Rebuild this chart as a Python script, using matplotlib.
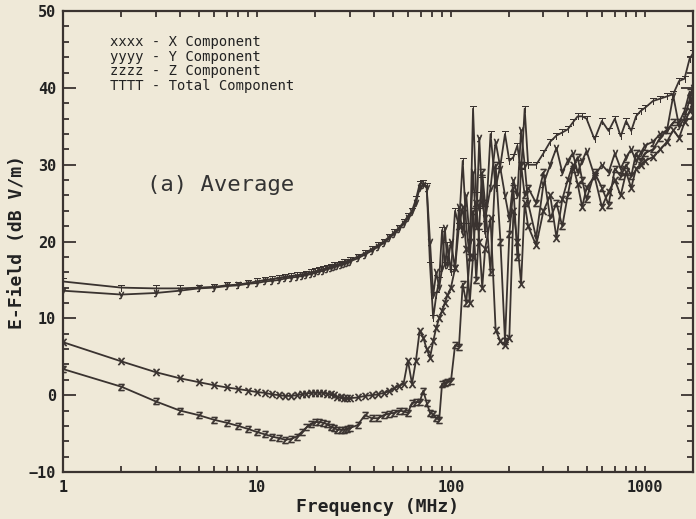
import matplotlib
matplotlib.use("Agg")
import matplotlib.pyplot as plt
from matplotlib.ticker import FixedLocator, MultipleLocator, NullFormatter

# frequency grid (MHz)
freq = [1, 2, 3, 4, 5, 6, 7, 8, 9, 10, 11, 12, 13, 14, 15, 16, 17, 18, 19, 20,
        21, 22, 23, 24, 25, 26, 27, 28, 29, 30,
        33, 36, 39, 42, 45, 48, 51, 54, 57, 60, 63, 66, 69, 72, 75, 78, 81, 84,
        87, 90, 93, 96, 100,
        105, 110, 115, 120, 125, 130, 135, 140, 145, 150, 160, 170, 180, 190,
        200, 210, 220, 230, 240, 250,
        275, 300, 325, 350, 375, 400, 425, 450, 475, 500, 550, 600, 650, 700,
        750, 800, 850, 900, 950, 1000, 1100, 1200, 1300, 1400, 1500, 1600,
        1700, 1770]

# E-field, dB V/m
e_total = [14.8, 14.0, 13.9, 13.9, 14.0, 14.1, 14.3, 14.4, 14.6, 14.8, 15.0, 15.1,
           15.3, 15.4, 15.5, 15.6, 15.7, 15.8, 16.0, 16.1, 16.3, 16.4, 16.6, 16.7,
           16.9, 17.0, 17.1, 17.3, 17.4, 17.6,
           18.0, 18.5, 19.0, 19.5, 20.0, 20.6, 21.2, 21.8, 22.5, 23.3, 24.0, 25.5,
           27.5, 27.6, 27.2, 17.0, 10.0, 13.0, 15.0, 21.5, 17.0, 19.5, 16.0,
           24.0, 22.0, 30.5, 22.0, 18.0, 37.3, 26.0, 24.0, 28.0, 21.0, 34.0, 27.0,
           30.0, 34.0, 30.5, 31.0, 32.5, 29.0, 37.3, 30.0,
           30.0, 31.5, 33.0, 33.8, 34.2, 34.6, 35.5, 36.3, 36.3, 36.0, 33.3, 35.7,
           34.4, 36.0, 33.7, 35.7, 34.4, 36.3, 37.0, 37.4, 38.3, 38.6, 38.9, 39.2,
           40.9, 41.2, 43.8, 44.5]
e_y = [13.6, 13.1, 13.3, 13.6, 13.9, 14.0, 14.2, 14.3, 14.5, 14.6, 14.8, 14.9,
       15.0, 15.2, 15.3, 15.4, 15.5, 15.6, 15.8, 15.9, 16.1, 16.2, 16.4, 16.5,
       16.7, 16.8, 16.9, 17.1, 17.2, 17.4,
       17.8, 18.3, 18.8, 19.3, 19.8, 20.4, 21.0, 21.6, 22.3, 23.0, 23.8, 25.0,
       27.0, 27.4, 27.0, 20.0, 13.0, 16.0, 14.0, 16.5, 21.8, 17.0, 20.0,
       16.5, 24.5, 21.0, 26.0, 20.0, 29.0, 22.0, 33.5, 25.0, 23.0, 27.0, 33.0,
       29.5, 26.0, 23.0, 28.0, 26.0, 34.5, 30.0, 25.0,
       20.5, 27.5, 30.0, 32.2, 29.0, 30.5, 31.5, 29.0, 30.5, 31.8, 28.5, 30.0,
       29.0, 31.5, 29.5, 31.0, 32.0, 30.5, 31.5, 32.5, 33.0, 34.0, 34.5, 39.0,
       35.0, 36.0, 38.5, 40.0]
e_x = [6.9, 4.4, 3.0, 2.2, 1.7, 1.3, 1.0, 0.8, 0.6, 0.4, 0.3, 0.1,
       0.0, -0.1, -0.1, 0.0, 0.1, 0.2, 0.3, 0.3, 0.3, 0.3, 0.2, 0.1,
       0.0, -0.2, -0.3, -0.4, -0.4, -0.4,
       -0.3, -0.1, 0.0, 0.1, 0.3, 0.5, 0.9, 1.2, 1.5, 4.5, 1.5, 4.5,
       8.4, 7.5, 6.0, 4.9, 7.0, 8.8, 10.0, 11.0, 12.0, 13.0, 14.0,
       16.5, 22.0, 24.5, 19.0, 12.0, 18.0, 25.0, 20.0, 14.0, 19.0, 23.0, 8.5,
       7.0, 6.5, 7.5, 24.0, 20.0, 14.5, 25.0, 22.0,
       19.5, 24.0, 26.0, 20.5, 25.5, 28.0, 30.0, 27.5, 24.5, 27.0, 28.5, 24.5,
       26.5, 28.0, 26.0, 29.0, 27.0, 29.5, 30.0, 30.5, 31.0, 32.0, 33.0, 34.5,
       33.5, 35.5, 37.0, 38.0]
e_z = [3.4, 1.1, -0.8, -2.0, -2.6, -3.2, -3.6, -4.0, -4.4, -4.8, -5.1, -5.4,
       -5.6, -5.8, -5.7, -5.4, -4.8, -4.2, -3.7, -3.5, -3.5, -3.6, -3.8, -4.1,
       -4.3, -4.5, -4.5, -4.5, -4.4, -4.3,
       -3.9, -2.6, -3.0, -3.0, -2.6, -2.4, -2.3, -2.0, -2.1, -2.3, -1.0, -0.9,
       -0.9, 0.6, -1.0, -2.3, -2.5, -3.0, -3.2, 1.5, 1.6, 1.7, 1.8,
       6.5, 6.3, 14.5, 12.0, 18.0, 24.0, 15.0, 22.0, 29.0, 25.0, 16.0, 30.0,
       20.0, 7.0, 21.0, 27.0, 18.0, 30.0, 26.0, 27.0,
       25.0, 29.0, 23.0, 25.0, 22.0, 26.0, 29.5, 31.0, 28.0, 25.5, 29.0, 27.0,
       24.8, 29.5, 28.5, 30.0, 28.5, 31.5, 30.5, 31.5, 32.0, 33.5, 34.5, 35.5,
       35.5, 37.0, 39.5, 36.5]

legend_lines = ["xxxx - X Component", "yyyy - Y Component",
                "zzzz - Z Component", "TTTT - Total Component"]
xtick_vals = [1, 10, 100, 1000]
xtick_labels = ["1", "10", "100", "1000"]
ytick_vals = [-10, 0, 10, 20, 30, 40, 50]

paper = "#efe9d8"
ink = "#3a3330"
mono = "DejaVu Sans Mono"

fig = plt.figure(figsize=(6.96, 5.19), dpi=100, facecolor=paper)
ax = fig.add_axes([0.0905, 0.0906, 0.9052, 0.888])
ax.set_facecolor(paper)

for vals, m in [(e_z, "$\\mathrm{z}$"), (e_x, "$\\mathrm{x}$"),
                (e_y, "$\\mathrm{y}$"), (e_total, "$\\mathrm{T}$")]:
    ax.plot(freq, vals, color=ink, lw=1.3, marker=m, markersize=5,
            markeredgewidth=0.5)

ax.set_xscale("log")
ax.set_xlim(1, 1770)
ax.set_ylim(-10, 50)

ax.xaxis.set_major_locator(FixedLocator(xtick_vals))
ax.set_xticklabels(xtick_labels)
ax.xaxis.set_minor_formatter(NullFormatter())
ax.yaxis.set_major_locator(FixedLocator(ytick_vals))
ax.yaxis.set_minor_locator(MultipleLocator(2))

ax.tick_params(which="both", direction="in", top=True, right=True,
               color=ink, width=1.3, labelcolor="#222")
ax.tick_params(axis="y", which="major", length=9, pad=5)
ax.tick_params(axis="y", which="minor", length=4.5)
ax.tick_params(axis="x", which="both", length=4.5, pad=6)
for lab in ax.get_xticklabels() + ax.get_yticklabels():
    lab.set_fontfamily(mono)
    lab.set_fontweight("bold")
    lab.set_fontsize(11)

for s in ax.spines.values():
    s.set_color(ink)
    s.set_linewidth(1.6)

ax.set_xlabel("Frequency (MHz)", fontfamily=mono, fontweight="bold",
              fontsize=13, color="#222", labelpad=2)
ax.set_ylabel("E-Field (dB V/m)", fontfamily=mono, fontweight="bold",
              fontsize=13, color="#222", labelpad=2)

for i, line in enumerate(legend_lines):
    ax.text(0.075, 0.933 - i * 0.0318, line, transform=ax.transAxes,
            fontfamily=mono, fontsize=10, color="#222",
            va="center", ha="left")

ax.text(0.133, 0.622, "(a) Average", transform=ax.transAxes,
        fontfamily=mono, fontsize=16, color="#333", va="center", ha="left")

fig.savefig("out.png", dpi=100, facecolor=paper)
